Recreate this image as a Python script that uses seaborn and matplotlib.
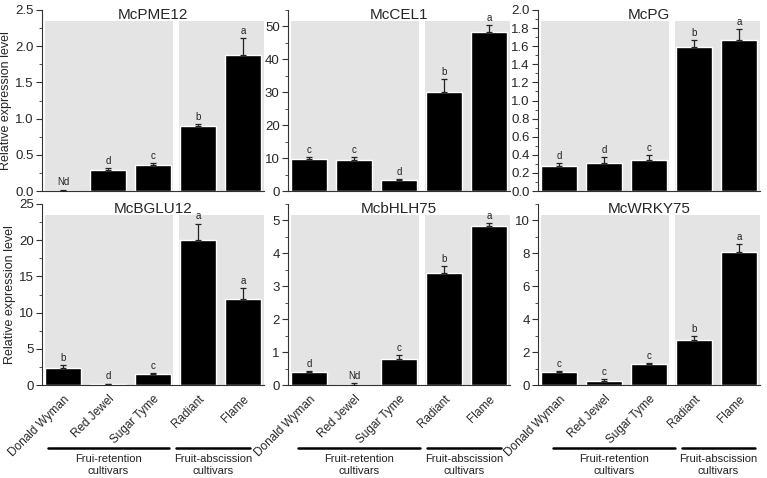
import numpy as np
import matplotlib
matplotlib.use('Agg')
import matplotlib.pyplot as plt
from matplotlib.lines import Line2D
from matplotlib.ticker import MultipleLocator
import seaborn as sns

# === DATA ===
cultivars = ["Donald Wyman", "Red Jewel", "Sugar Tyme", "Radiant", "Flame"]
genes = ["McPME12", "McCEL1", "McPG", "McBGLU12", "McbHLH75", "McWRKY75"]

pme12_mean = [0.0, 0.29, 0.36, 0.90, 1.88]
pme12_err = [0.02, 0.03, 0.03, 0.03, 0.23]
pme12_sig = ["Nd", "d", "c", "b", "a"]

cel1_mean = [9.6, 9.5, 3.4, 30.2, 48.4]
cel1_err = [0.7, 0.7, 0.3, 3.8, 2.0]
cel1_sig = ["c", "c", "d", "b", "a"]

pg_mean = [0.28, 0.31, 0.34, 1.59, 1.67]
pg_err = [0.03, 0.07, 0.06, 0.08, 0.12]
pg_sig = ["d", "d", "c", "b", "a"]

bglu12_mean = [2.3, 0.1, 1.5, 20.0, 11.9]
bglu12_err = [0.4, 0.1, 0.2, 2.3, 1.5]
bglu12_sig = ["b", "d", "c", "a", "a"]

bhlh75_mean = [0.40, 0.0, 0.79, 3.39, 4.84]
bhlh75_err = [0.03, 0.05, 0.12, 0.22, 0.07]
bhlh75_sig = ["d", "Nd", "c", "b", "a"]

wrky75_mean = [0.76, 0.26, 1.25, 2.72, 8.07]
wrky75_err = [0.11, 0.09, 0.08, 0.24, 0.48]
wrky75_sig = ["c", "c", "c", "b", "a"]

means = [pme12_mean, cel1_mean, pg_mean, bglu12_mean, bhlh75_mean, wrky75_mean]
errs = [pme12_err, cel1_err, pg_err, bglu12_err, bhlh75_err, wrky75_err]
sigs = [pme12_sig, cel1_sig, pg_sig, bglu12_sig, bhlh75_sig, wrky75_sig]
ylims = [2.5, 55, 2.0, 25, 5.5, 11]
majors = [0.5, 10, 0.2, 5, 1, 2]
minors = [0.25, 5, 0.1, 2.5, 0.5, 1]
tick_fmt = ["{:.1f}", "{:.0f}", "{:.1f}", "{:.0f}", "{:.0f}", "{:.0f}"]

group_labels = [["Frui-retention\ncultivars", "Fruit-abscission\ncultivars"],
                ["Fruit-retention\ncultivars", "Fruit-abscission\ncultivars"],
                ["Fruit-retention\ncultivars", "Fruit-abscission\ncultivars"]]

# === STYLE ===
sns.set_style('ticks')
plt.rcParams['font.family'] = ['Liberation Sans', 'DejaVu Sans']
GREY = '#e4e4e4'

W, H = 767, 478
fig = plt.figure(figsize=(W / 100, H / 100), dpi=100)

lefts = [42, 288, 538]
bottoms = [287, 93]
aw, ah = 222, 181

for i, gene in enumerate(genes):
    row, col = divmod(i, 3)
    ax = fig.add_axes([lefts[col] / W, bottoms[row] / H, aw / W, ah / H])
    ax.set_facecolor('white')
    x = np.arange(len(cultivars))

    ax.axvspan(-0.4, 2.45, ymin=0, ymax=0.94, color=GREY, lw=0, zorder=0)
    ax.axvspan(2.57, 4.6, ymin=0, ymax=0.94, color=GREY, lw=0, zorder=0)

    sns.barplot(x=cultivars, y=means[i], color='black', saturation=1,
                width=0.8, ax=ax, zorder=2)
    ax.errorbar(x, means[i], yerr=[np.zeros(5), errs[i]], fmt='none',
                ecolor='#222222', elinewidth=0.9, capsize=2.5, capthick=0.9, zorder=3)
    for xi, m, e, s in zip(x, means[i], errs[i], sigs[i]):
        ax.annotate(s, (xi, m + e), xytext=(0, 1.5), textcoords='offset points',
                    ha='center', va='bottom', fontsize=7, color='#222222')

    ax.set_xlim(-0.47, 4.47)
    ax.set_ylim(0, ylims[i])
    ax.yaxis.set_minor_locator(MultipleLocator(minors[i]))
    ticks = np.arange(0, ylims[i] + 1e-9, majors[i])
    ax.set_yticks(ticks)
    ax.set_yticklabels([tick_fmt[i].format(t) for t in ticks], fontsize=9.5)
    ax.tick_params(axis='y', which='major', length=4, width=0.8, pad=2, color='#333333')
    ax.tick_params(axis='y', which='minor', length=2, width=0.6, color='#333333')
    ax.tick_params(axis='x', length=0)
    sns.despine(ax=ax)
    for sp in ['left', 'bottom']:
        ax.spines[sp].set_linewidth(0.8)
        ax.spines[sp].set_color('#333333')

    ax.text(0.5, 0.975, gene, transform=ax.transAxes, ha='center', va='center',
            fontsize=11)
    ax.set_xlabel('')
    if col == 0:
        ax.set_ylabel('Relative expression level', fontsize=9, labelpad=2)
    else:
        ax.set_ylabel('')

    if row == 0:
        ax.set_xticklabels([])
    else:
        ax.set_xticks(x)
        ax.set_xticklabels(cultivars, rotation=45, ha='right',
                           rotation_mode='anchor', fontsize=8.5)
        ax.tick_params(axis='x', pad=6)

# group bars under the bottom row (pixel positions)
line_spans = [[(48, 169), (176, 250)], [(298, 420), (427, 501)], [(553, 675), (682, 755)]]
for col in range(3):
    for (x0, x1), lab in zip(line_spans[col], group_labels[col]):
        fig.add_artist(Line2D([x0 / W, x1 / W], [1 - 448 / H, 1 - 448 / H],
                              color='black', lw=1.8, transform=fig.transFigure))
        fig.text((x0 + x1) / 2 / W, 1 - 454 / H, lab, ha='center', va='top',
                 fontsize=8, linespacing=1.2, color='#222222')

fig.savefig('out.png', dpi=100)
